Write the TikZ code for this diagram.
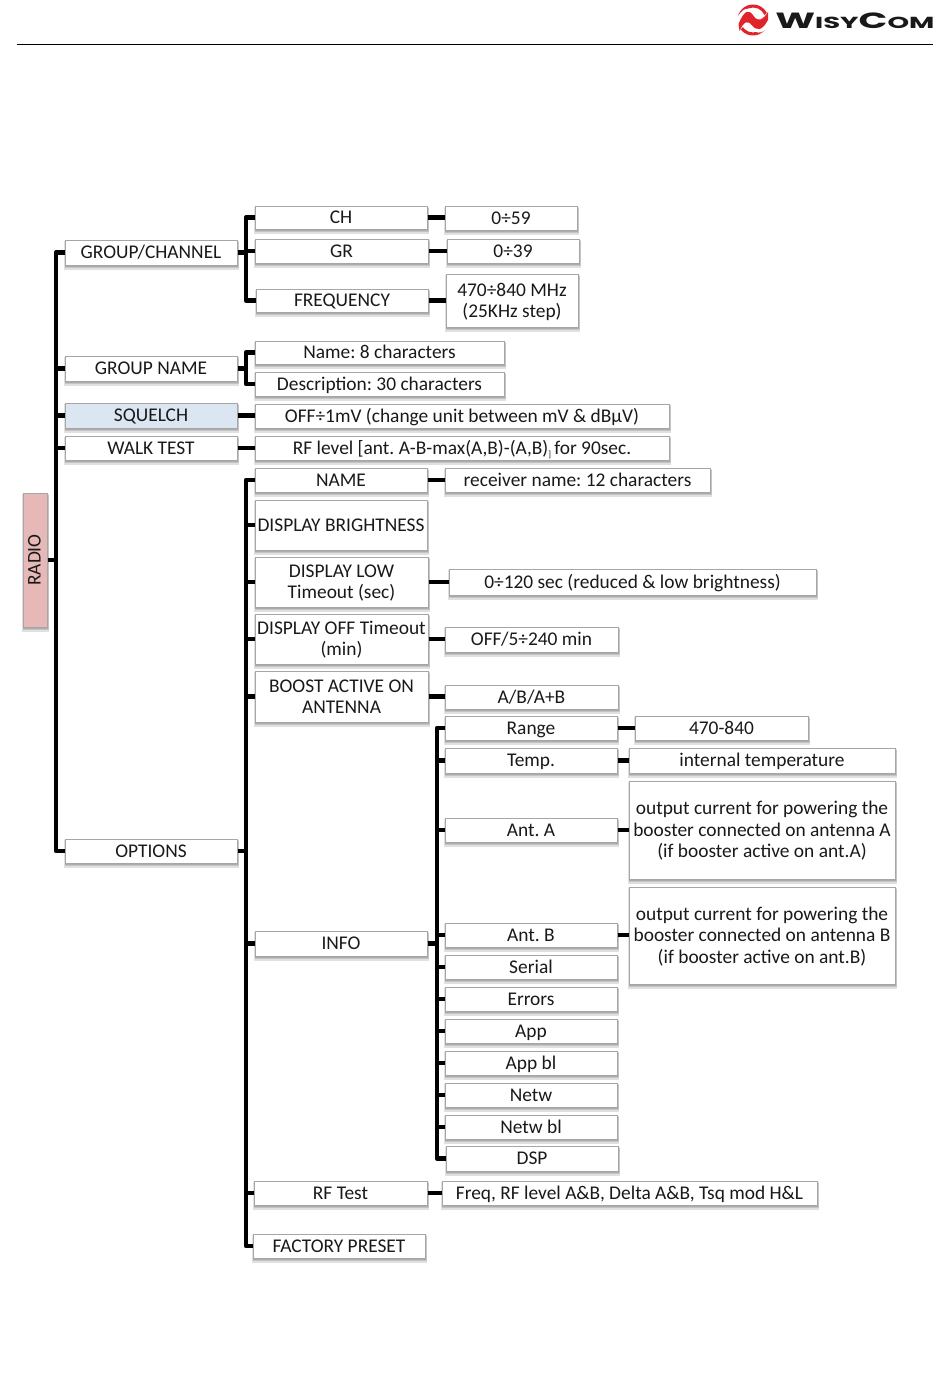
\documentclass[tikz,border=0pt]{standalone}
\usepackage{fontspec}
\setmainfont{Carlito}
\newfontfamily\logofont{Poppins}
\definecolor{boxline}{HTML}{A6A6A6}
\definecolor{pinkbox}{HTML}{E6B9B8}
\definecolor{bluebox}{HTML}{DCE6F2}
\definecolor{logored}{HTML}{E1232A}
\newcommand{\lnstrut}{\rule[-4pt]{0pt}{20.4pt}}
\tikzset{
  x=1pt,y=-1pt,
  treebox/.style={draw=boxline,line width=1pt,fill=white,inner sep=0pt,align=center,font=\frenchspacing\fontsize{19.4}{21.3}\selectfont,text=black!90},
  conn/.style={line width=4.8pt,black,line cap=butt,line join=round},
  shade one/.style={fill=black,opacity=.12},
}
\newcommand{\bx}[7][]{%
  \fill[shade one] (#3-1,#4+1) rectangle (#5+2,#6+4.5);
  \fill[shade one] (#3,#4+2) rectangle (#5+1.5,#6+3.2);
  \fill[shade one] (#3,#4+2) rectangle (#5+1,#6+2);
  \node[treebox,#1,minimum width={(#5-#3)*1pt},minimum height={(#6-#4)*1pt}] (#2) at ({(#3+#5)/2},{(#4+#6)/2}) {\lnstrut#7\lnstrut};
}
\begin{document}
\begin{tikzpicture}
\useasboundingbox (0,0) rectangle (950,1378);
\fill[white] (0,0) rectangle (950,1378);
% header
\draw[black,line width=.9pt] (17,44) -- (933,44);
\fill[logored,even odd rule] (753,20) circle (15.5) (753,20) circle (12.5);
\fill[white] (735,22) .. controls (743,5) and (749,7) .. (754,14) .. controls (758,20) and (763,18) .. (772,8) -- (772,21) .. controls (764,35) and (757,35) .. (751,28) .. controls (747,23) and (743,25) .. (735,36) -- cycle;
\fill[logored] (738.5,24) .. controls (745,9) and (749,9) .. (754,16.5) .. controls (758,22) and (763,20) .. (768,12) -- (768,20) .. controls (762,31) and (757,31) .. (752,25.5) .. controls (748,20) and (744,21) .. (739.5,31) -- cycle;
\node[inner sep=0pt,anchor=west,text=black!90,xscale=1.72] (logo) at (775,20.5) {\logofont\bfseries\fontsize{22}{22}\selectfont W\fontsize{16}{16}\selectfont ISY\fontsize{22}{22}\selectfont C\fontsize{16}{16}\selectfont OM};
% boxes
\bx[fill=pinkbox]{radio}{23}{493}{47}{627}{}
\node[rotate=90,font=\fontsize{19.4}{21}\selectfont,text=black!90] (radiolabel) at (34.5,560) {RADIO};
\bx{gc}{65}{240}{237}{265}{GROUP/CHANNEL}
\bx{gn}{65}{356}{237}{381}{GROUP NAME}
\bx[fill=bluebox]{sq}{65}{403}{237}{428}{SQUELCH}
\bx{wt}{65}{436}{237}{460}{WALK TEST}
\bx{op}{65}{839}{237}{863}{OPTIONS}
\bx{ch}{255}{206}{427}{229}{CH}
\bx{gr}{255}{239}{428}{263}{GR}
\bx{fq}{256}{289}{428}{312}{FREQUENCY}
\bx{chv}{445}{206}{577}{230}{0÷59}
\bx{grv}{447}{239}{579}{263}{0÷39}
\bx{fqv}{446}{274}{578}{327}{470÷840 MHz\\(25KHz step)}
\bx{nm}{255}{341}{504}{364}{Name: 8 characters}
\bx{ds}{255}{372}{504}{396}{Description: 30 characters}
\bx{sqv}{255}{404}{669}{428}{OFF÷1mV (change unit between mV \& dBµV)}
\bx{wtv}{255}{436}{669}{460}{RF level [ant. A-B-max(A,B)-(A,B)\raisebox{-3pt}{\fontsize{9}{9}\selectfont ]}\,for 90sec.}
\bx{name}{255}{468}{427}{492}{NAME}
\bx{dbr}{255}{500}{427}{550}{DISPLAY BRIGHTNESS}
\bx{dlo}{255}{557}{428}{607}{DISPLAY LOW\\Timeout (sec)}
\bx{dof}{255}{614}{428}{664}{DISPLAY OFF Timeout\\(min)}
\bx{bst}{255}{671}{428}{722}{BOOST ACTIVE ON\\ANTENNA}
\bx{info}{255}{931}{427}{956}{INFO}
\bx{rft}{254}{1181}{427}{1205}{RF Test}
\bx{fac}{253}{1234}{425}{1258}{FACTORY PRESET}
\bx{namev}{445}{468}{710}{492}{receiver name: 12 characters}
\bx{dlov}{449}{569}{816}{595}{0÷120 sec (reduced \& low brightness)}
\bx{dofv}{445}{627}{618}{652}{OFF/5÷240 min}
\bx{bstv}{445}{685}{618}{709}{A/B/A+B}
\bx{rng}{445}{716}{617}{740}{Range}
\bx{tmp}{445}{748}{617}{773}{Temp.}
\bx{anta}{445}{818}{617}{842}{Ant. A}
\bx{antb}{445}{923}{617}{947}{Ant. B}
\bx{ser}{445}{955}{617}{979}{Serial}
\bx{err}{445}{987}{617}{1011}{Errors}
\bx{app}{445}{1019}{617}{1043}{App}
\bx{appb}{445}{1051}{617}{1075}{App bl}
\bx{net}{445}{1083}{617}{1107}{Netw}
\bx{netb}{445}{1115}{617}{1139}{Netw bl}
\bx{dsp}{446}{1146}{618}{1171}{DSP}
\bx{rftv}{442}{1181}{817}{1205}{Freq, RF level A\&B, Delta A\&B, Tsq mod H\&L}
\bx{rngv}{635}{716}{808}{740}{470-840}
\bx{tmpv}{629}{748}{895}{773}{internal temperature}
\bx{antav}{629}{781}{895}{879}{output current for powering the\\booster connected on antenna A\\(if booster active on ant.A)}
\bx{antbv}{629}{887}{895}{984}{output current for powering the\\booster connected on antenna B\\(if booster active on ant.B)}
% connector joints
\coordinate (tA) at (56,252);
\coordinate (tB) at (246,480);
\coordinate (tC) at (437,729);
\coordinate (tD) at (246,217);
\coordinate (tE) at (246,352);
% main trunk
\draw[conn] (gc.west) -- (gc.west -| tA) -- (op.west -| tA) -- (op.west);
\draw[conn] (radio.east) -- (radio.east -| tA);
\draw[conn] (gn.west) -- (gn.west -| tA);
\draw[conn] (sq.west) -- (sq.west -| tA);
\draw[conn] (wt.west) -- (wt.west -| tA);
% group/channel
\draw[conn] (ch.west) -- (ch.west -| tD) -- (fq.west -| tD) -- (fq.west);
\draw[conn] (gc.east) -- (gc.east -| tD);
\draw[conn] (gr.west) -- (gr.west -| tD);
\draw[conn] (ch.east) -- (ch.east -| chv.west);
\draw[conn] (gr.east) -- (gr.east -| grv.west);
\draw[conn] (fq.east) -- (fq.east -| fqv.west);
% group name
\draw[conn] (nm.west) -- (nm.west -| tE) -- (ds.west -| tE) -- (ds.west);
\draw[conn] (gn.east) -- (gn.east -| tE);
\draw[conn] (sq.east) -- (sq.east -| sqv.west);
\draw[conn] (wt.east) -- (wt.east -| wtv.west);
% options
\draw[conn] (name.west) -- (name.west -| tB) -- (fac.west -| tB) -- (fac.west);
\draw[conn] (op.east) -- (op.east -| tB);
\foreach \n in {dbr,dlo,dof,bst,info,rft} {\draw[conn] (\n.west) -- (\n.west -| tB);}
\draw[conn] (name.east) -- (name.east -| namev.west);
\draw[conn] (dlo.east) -- (dlo.east -| dlov.west);
\draw[conn] (dof.east) -- (dof.east -| dofv.west);
\draw[conn] (bst.east) -- (bst.east -| bstv.west);
\draw[conn] (rft.east) -- (rft.east -| rftv.west);
% info
\draw[conn] (rng.west) -- (rng.west -| tC) -- (dsp.west -| tC) -- (dsp.west);
\draw[conn] (info.east) -- (info.east -| tC);
\foreach \n in {tmp,anta,antb,ser,err,app,appb,net,netb} {\draw[conn] (\n.west) -- (\n.west -| tC);}
\draw[conn] (rng.east) -- (rng.east -| rngv.west);
\draw[conn] (tmp.east) -- (tmp.east -| tmpv.west);
\draw[conn] (anta.east) -- (anta.east -| antav.west);
\draw[conn] (antb.east) -- (antb.east -| antbv.west);
\end{tikzpicture}
\end{document}
